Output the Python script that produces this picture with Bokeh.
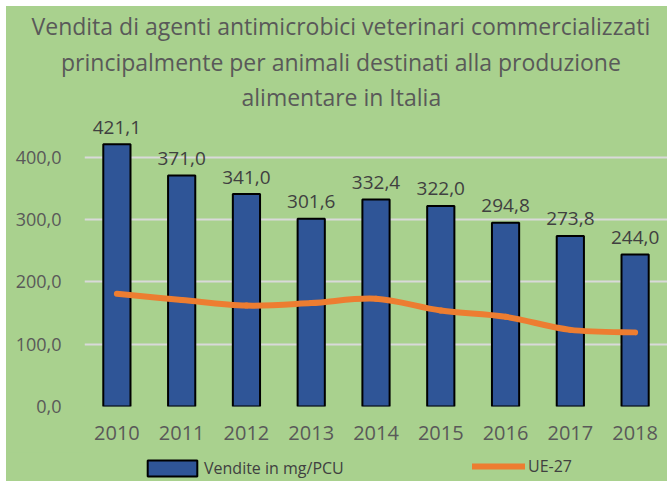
from bokeh.plotting import figure
from bokeh.layouts import column
from bokeh.models import (Range1d, FixedTicker, Title, Legend, LegendItem,
                          ColumnDataSource)
from bokeh.embed import file_html
from bokeh.resources import INLINE

# ---- data ----
years = ["2010", "2011", "2012", "2013", "2014", "2015", "2016", "2017", "2018"]
vendite = [421.1, 371.0, 341.0, 301.6, 332.4, 322.0, 294.8, 273.8, 244.0]
ue27 = [181, 171, 162, 166, 173, 154, 144, 123, 119]
y_ticks = [0, 100, 200, 300, 400]
title_lines = ["Vendita di agenti antimicrobici veterinari commercializzati",
               "principalmente per animali destinati alla produzione",
               "alimentare in Italia"]
series_names = ["Vendite in mg/PCU", "UE-27"]

BG = "#a9d18e"
BAR = "#2f5597"
ORANGE = "#ed7d31"
AXIS_TXT = "#595959"
DARK_TXT = "#404040"
FONT = "Open Sans"

W = 661
p = figure(width=W, height=446, output_backend="svg", toolbar_location=None,
           x_range=Range1d(-0.5, len(years) - 0.5), y_range=Range1d(0, 472),
           min_border_left=78, min_border_right=0, min_border_top=105,
           min_border_bottom=46)
p.background_fill_color = BG
p.border_fill_color = BG
p.outline_line_color = None

xs = list(range(len(years)))
src = ColumnDataSource(dict(
    x=xs, top=vendite, ue=ue27,
    lab=[f"{v:.1f}".replace(".", ",") for v in vendite]))

bars = p.vbar(x="x", top="top", width=0.42, source=src, fill_color=BAR,
              line_color="black", line_width=2)

p.text(x="x", y="top", text="lab", source=src, text_align="center",
       text_baseline="alphabetic", y_offset=-17, text_font_size="19px",
       text_color=DARK_TXT, text_font={"value": FONT})

# smooth line (Catmull-Rom -> cubic bezier segments through the data points)
n = len(ue27)
x0s, y0s, x1s, y1s, cx0, cy0, cx1, cy1 = [], [], [], [], [], [], [], []
for i in range(n - 1):
    a = max(i - 1, 0)
    d = min(i + 2, n - 1)
    x0s.append(xs[i]); y0s.append(ue27[i])
    x1s.append(xs[i + 1]); y1s.append(ue27[i + 1])
    cx0.append(xs[i] + (xs[i + 1] - xs[a]) / 6)
    cy0.append(ue27[i] + (ue27[i + 1] - ue27[a]) / 6)
    cx1.append(xs[i + 1] - (xs[d] - xs[i]) / 6)
    cy1.append(ue27[i + 1] - (ue27[d] - ue27[i]) / 6)
p.bezier(x0=x0s, y0=y0s, x1=x1s, y1=y1s, cx0=cx0, cy0=cy0, cx1=cx1, cy1=cy1,
         line_color=ORANGE, line_width=6, line_cap="round")

# axes
p.xaxis.ticker = FixedTicker(ticks=xs)
p.xaxis.major_label_overrides = {i: y for i, y in enumerate(years)}
p.yaxis.ticker = FixedTicker(ticks=y_ticks)
p.yaxis.major_label_overrides = {t: f"{t:.1f}".replace(".", ",") for t in y_ticks}
for ax in (p.xaxis[0], p.yaxis[0]):
    ax.axis_line_color = None
    ax.major_tick_line_color = None
    ax.minor_tick_line_color = None
    ax.major_tick_out = 0
    ax.major_tick_in = 0
    ax.minor_tick_out = 0
    ax.major_label_text_color = AXIS_TXT
    ax.major_label_text_font = FONT
p.xaxis.major_label_text_font_size = "20px"
p.yaxis.major_label_text_font_size = "18px"
p.xaxis.major_label_standoff = 19
p.yaxis.major_label_standoff = 23

p.xgrid.grid_line_color = None
p.ygrid.grid_line_color = "#d9d9d9"
p.ygrid.grid_line_width = 2

# title lines, stacked above the plot (last added is the top one)
offsets = [157, -23.5, -53]
standoffs = [0, 2, 2]
for txt, off, so in zip(title_lines[::-1], offsets, standoffs):
    p.add_layout(Title(text=txt, align="left", offset=off, standoff=so,
                       text_font=FONT, text_font_size="23px",
                       text_font_style="normal", text_color=AXIS_TXT),
                 "above")

# legend strip (small figure under the chart, frame aligned with the chart)
lg = figure(width=W, height=29, output_backend="svg", toolbar_location=None,
            x_range=Range1d(-0.5, len(years) - 0.5), y_range=Range1d(0, 472),
            x_axis_type=None, y_axis_type=None, min_border=0)
lg.background_fill_color = BG
lg.border_fill_color = BG
lg.outline_line_color = None
lg.grid.visible = False
bar_proxy = lg.vbar(x="x", top="top", width=0.42, source=src, fill_color=BAR,
                    line_color="black", line_width=2, visible=False)
line_proxy = lg.line(x="x", y="ue", source=src, line_color=ORANGE,
                     line_width=6, line_cap="round", visible=False)

common = dict(orientation="horizontal", padding=0, margin=0,
              background_fill_alpha=0, border_line_color=None,
              inactive_fill_alpha=0, click_policy="none",
              label_text_font=FONT, label_text_font_size="16px",
              label_text_color=DARK_TXT)
leg1 = Legend(items=[LegendItem(label=series_names[0], renderers=[bar_proxy])],
              location=(57, 2), glyph_width=62, glyph_height=20,
              label_standoff=1, label_height=20, **common)
leg2 = Legend(items=[LegendItem(label=series_names[1], renderers=[line_proxy])],
              location=(388, 4), glyph_width=53, glyph_height=16,
              label_standoff=3, label_height=16, **common)
lg.add_layout(leg1, "center")
lg.add_layout(leg2, "center")

layout = column(p, lg, spacing=0, margin=(6, 0, 0, 6),
                styles={"background-color": BG})
open("out.html", "w").write(file_html(layout, INLINE))
